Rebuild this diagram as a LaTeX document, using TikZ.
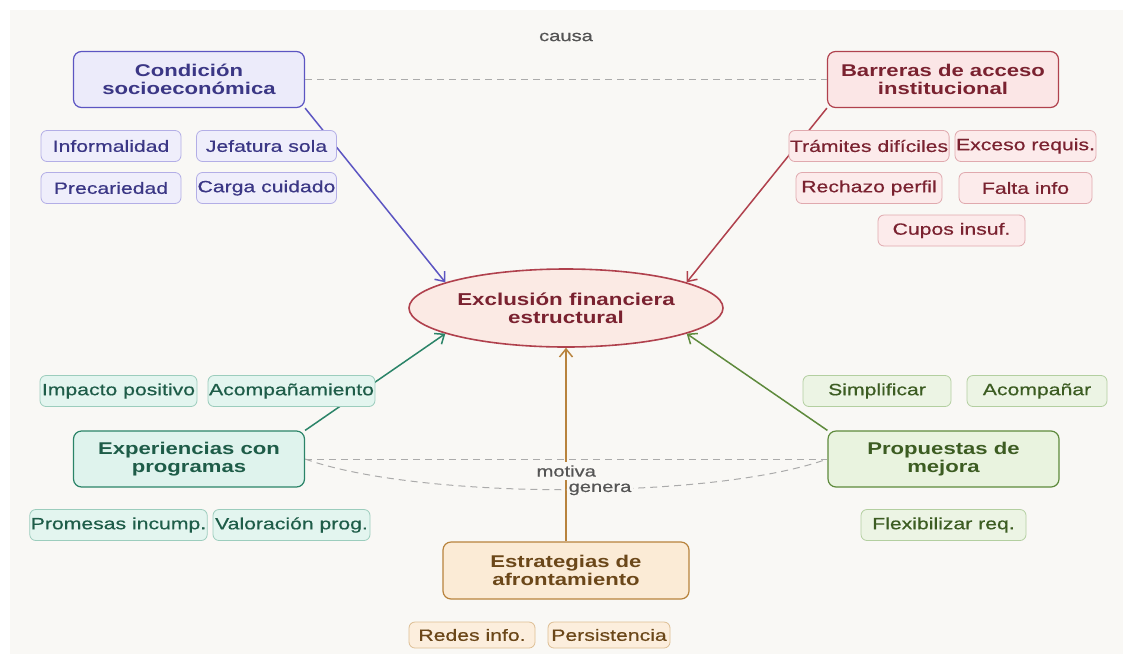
\documentclass[tikz,border=0pt]{standalone}
\usepackage{fontspec}
\setmainfont{Liberation Sans}[FakeStretch=1.3, UprightFeatures={FakeBold=0.5}]
\usetikzlibrary{shapes.geometric,arrows.meta,positioning,calc}
\usepackage{xcolor}

\definecolor{fondo}{HTML}{F9F8F5}
\definecolor{gris}{HTML}{555555}
\definecolor{grislinea}{HTML}{ABABAB}
\definecolor{morado}{HTML}{5C55C2}
\definecolor{moradofondo}{HTML}{ECEBFA}
\definecolor{moradotexto}{HTML}{3B3785}
\definecolor{moradosub}{HTML}{B3AEE6}
\definecolor{moradosubfondo}{HTML}{EFEEFB}
\definecolor{rojo}{HTML}{B0414D}
\definecolor{rojofondo}{HTML}{FBE6E6}
\definecolor{rojotexto}{HTML}{7A2230}
\definecolor{rojosub}{HTML}{E0A9AE}
\definecolor{rojosubfondo}{HTML}{FCEBEB}
\definecolor{elipsefondo}{HTML}{FBEAE4}
\definecolor{verdeazul}{HTML}{2B8468}
\definecolor{verdeazulfondo}{HTML}{DFF3ED}
\definecolor{verdeazultexto}{HTML}{1E5C48}
\definecolor{verdeazulsub}{HTML}{9CCDBD}
\definecolor{verdeazulsubfondo}{HTML}{E3F5EF}
\definecolor{verde}{HTML}{5E8A3C}
\definecolor{verdefondo}{HTML}{E9F3DF}
\definecolor{verdetexto}{HTML}{3C5C22}
\definecolor{verdesub}{HTML}{B3CFA0}
\definecolor{verdesubfondo}{HTML}{ECF4E4}
\definecolor{naranja}{HTML}{B8833D}
\definecolor{naranjafondo}{HTML}{FBEBD6}
\definecolor{naranjatexto}{HTML}{6B4719}
\definecolor{naranjasub}{HTML}{DDBE93}
\definecolor{naranjasubfondo}{HTML}{FCEEDD}

\begin{document}
\begin{tikzpicture}[x=1pt, y=-1pt, node distance=42pt]
    \tikzstyle{principal} = [rectangle, draw, line width=1.2pt, rounded corners=8pt, minimum width=231pt, minimum height=56pt, align=center, font=\fontsize{17}{17.5}\selectfont\bfseries]
    \tikzstyle{sub} = [rectangle, draw, line width=0.8pt, rounded corners=6pt, minimum height=31pt, inner xsep=1pt, font=\fontsize{16.3}{18}\selectfont]
    \tikzstyle{submorado} = [sub, draw=moradosub, fill=moradosubfondo, text=moradotexto, minimum width=140pt]
    \tikzstyle{subrojo} = [sub, draw=rojosub, fill=rojosubfondo, text=rojotexto]
    \tikzstyle{subverdeazul} = [sub, draw=verdeazulsub, fill=verdeazulsubfondo, text=verdeazultexto, minimum width=157pt]
    \tikzstyle{subverde} = [sub, draw=verdesub, fill=verdesubfondo, text=verdetexto]
    \tikzstyle{subnaranja} = [sub, draw=naranjasub, fill=naranjasubfondo, text=naranjatexto, minimum height=26pt]
    \tikzstyle{etiqueta} = [text=gris, fill=fondo, inner xsep=1.5pt, inner ysep=3pt, font=\fontsize{15.5}{16}\selectfont]
    \tikzstyle{flecha} = [line width=1.5pt, -{Straight Barb[length=8pt, width=13pt]}]
    \tikzstyle{relacion} = [draw=grislinea, line width=1pt, dash pattern=on 7pt off 5pt]

    % Fondo
    \useasboundingbox (0,0) rectangle (1123,654);
    \fill[white] (0,0) rectangle (1123,654);
    \fill[fondo] (10,10) rectangle (1123,654);

    % Nodos
    \node[ellipse, draw=rojo, fill=elipsefondo, text=rojotexto, line width=1.6pt, minimum width=314pt, minimum height=78pt, inner sep=0pt, align=center, font=\fontsize{17.2}{18}\selectfont\bfseries] (exclusion) at (566,308) {Exclusión financiera\\estructural};
    \node[principal, draw=morado, fill=moradofondo, text=moradotexto] (condicion) at (189,79.5) {Condición\\socioeconómica};
    \node[principal, draw=rojo, fill=rojofondo, text=rojotexto] (barreras) at (943,79.5) {Barreras de acceso\\institucional};
    \node[principal, draw=verdeazul, fill=verdeazulfondo, text=verdeazultexto] (experiencias) at (189,459) {Experiencias con\\programas};
    \node[principal, draw=verde, fill=verdefondo, text=verdetexto] (propuestas) at (943.5,459) {Propuestas de\\mejora};
    \node[principal, draw=naranja, fill=naranjafondo, text=naranjatexto, minimum width=246pt, minimum height=57pt] (estrategias) at (566,570.5) {Estrategias de\\afrontamiento};

    % Flechas hacia el centro
    \draw[flecha, morado] (condicion.south east) -- (exclusion.168);
    \draw[flecha, rojo] (barreras.south west) -- (exclusion.12);
    \draw[flecha, verdeazul] (experiencias.north east) -- (exclusion.192);
    \draw[flecha, verde] (propuestas.north west) -- (exclusion.-12);
    \draw[flecha, naranja] (estrategias.north) -- (exclusion.south);

    % Relaciones
    \draw[relacion] (condicion.east) -- node[etiqueta, fill=none, yshift=42.5pt] (causa) {causa} (barreras.west);
    \draw[relacion] (experiencias.east) -- node[etiqueta, yshift=-12pt] (motiva) {motiva} (propuestas.west);
    \draw[relacion] (experiencias.east) .. controls (420,500) and (713,500) .. node[etiqueta, pos=0.555] (genera) {genera} (propuestas.west);

    % Subnodos
    \node[submorado] (informalidad) at (111,146) {Informalidad};
    \node[submorado] (jefatura) at (266.5,146) {Jefatura sola};
    \node[submorado, below of=informalidad] (precariedad) {Precariedad};
    \node[submorado, below of=jefatura] (carga) {Carga cuidado};

    \node[subrojo, minimum width=146pt] (tramites) at (869,146) {Trámites difíciles};
    \node[subrojo, minimum width=133pt] (exceso) at (1025.5,146) {Exceso requis.};
    \node[subrojo, minimum width=146pt, below of=tramites] (rechazo) {Rechazo perfil};
    \node[subrojo, minimum width=133pt, below of=exceso] (falta) {Falta info};
    \node[subrojo, minimum width=147pt] (cupos) at (951.5,230.5) {Cupos insuf.};

    \node[subverdeazul] (impacto) at (118.5,391) {Impacto positivo};
    \node[subverdeazul] (acompanamiento) at (291.5,391) {Acompañamiento};
    \node[subverdeazul] (promesas) at (118.5,525) {Promesas incump.};
    \node[subverdeazul] (valoracion) at (291.5,525) {Valoración prog.};

    \node[subverde, minimum width=148pt] (simplificar) at (877,391) {Simplificar};
    \node[subverde, minimum width=140pt] (acompanar) at (1037,391) {Acompañar};
    \node[subverde, minimum width=165pt] (flexibilizar) at (943.5,525) {Flexibilizar req.};

    \node[subnaranja, minimum width=126pt] (redes) at (472,635) {Redes info.};
    \node[subnaranja, minimum width=122pt] (persistencia) at (609,635) {Persistencia};
\end{tikzpicture}
\end{document}
